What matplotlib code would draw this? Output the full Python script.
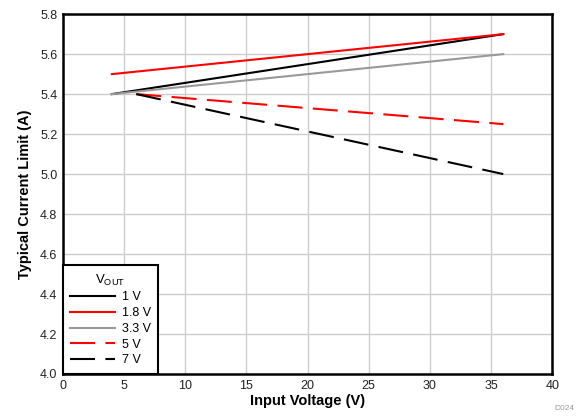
import matplotlib
matplotlib.use("Agg")
import matplotlib.pyplot as plt

plt.rcParams['font.family'] = ['Liberation Sans', 'DejaVu Sans']

labels = ['1 V', '1.8 V', '3.3 V', '5 V', '7 V']
x_1v = [4, 36];   y_1v = [5.4, 5.7]
x_18v = [4, 36];  y_18v = [5.5, 5.7]
x_33v = [4, 36];  y_33v = [5.4, 5.6]
x_5v = [6, 36];   y_5v = [5.4, 5.25]
x_7v = [6, 36];   y_7v = [5.4, 5.0]

fig = plt.figure(figsize=(5.77, 4.16), dpi=100)
ax = fig.add_axes([0.109, 0.101, 0.848, 0.865])

ax.plot(x_1v, y_1v, color='black', lw=1.5, label=labels[0])
ax.plot(x_18v, y_18v, color='red', lw=1.5, label=labels[1])
ax.plot(x_33v, y_33v, color='#999999', lw=1.5, label=labels[2])
ax.plot(x_5v, y_5v, color='red', lw=1.5, dashes=(12, 5), label=labels[3])
ax.plot(x_7v, y_7v, color='black', lw=1.5, dashes=(12, 5), label=labels[4])

ax.set_xlim(0, 40)
ax.set_ylim(4.0, 5.8)
ax.set_xticks(range(0, 41, 5))
ax.set_yticks([4.0 + 0.2 * i for i in range(10)])
ax.set_yticklabels([f"{4.0 + 0.2 * i:.1f}" for i in range(10)])
ax.grid(True, color='#cccccc', lw=1)
ax.set_axisbelow(True)
ax.tick_params(length=0, labelsize=9, pad=4, labelcolor='#222222')
for s in ax.spines.values():
    s.set_linewidth(1.8)
    s.set_color('black')

ax.set_xlabel('Input Voltage (V)', fontsize=10.5, fontweight='bold', labelpad=2)
ax.set_ylabel('Typical Current Limit (A)', fontsize=10.5, fontweight='bold', labelpad=6)

leg = ax.legend(title=r'V$_{\mathregular{OUT}}$', loc='lower left', fontsize=9,
                title_fontsize=9.5, frameon=True, fancybox=False, framealpha=1,
                edgecolor='black', borderaxespad=0.0, handlelength=3.6,
                labelspacing=0.3, borderpad=0.6, handletextpad=0.5)
leg.get_frame().set_linewidth(1.5)

fig.text(0.995, 0.01, 'D024', fontsize=6, color='#999999', ha='right', va='bottom')

fig.savefig('out.png', dpi=100)
